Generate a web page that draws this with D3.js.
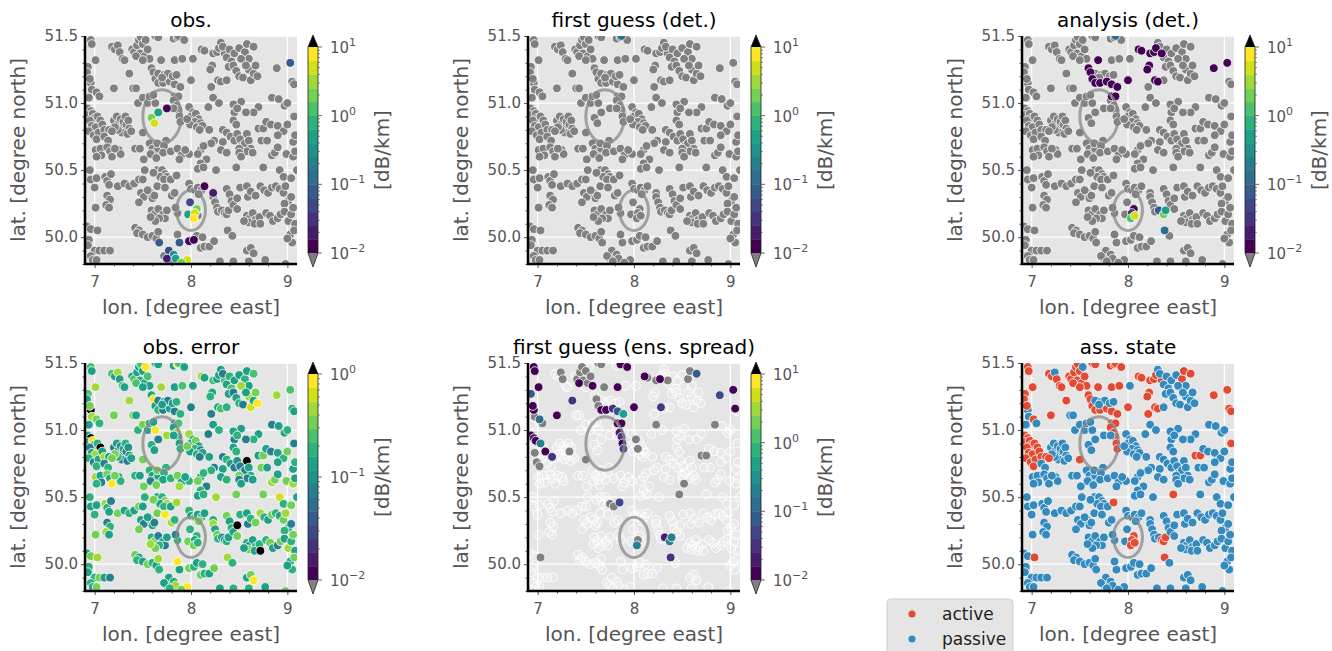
<!DOCTYPE html>
<html>
<head>
<meta charset="utf-8">
<script src="https://cdn.jsdelivr.net/npm/d3@7"></script>
<style>
  body { margin: 0; background: #fff; }
  svg text { font-family: "DejaVu Sans", sans-serif; }
</style>
</head>
<body>
<svg id="fig" width="1332" height="651"></svg>
<script>
// stations: [lon, lat, state (1 = active, 0 = passive), obs. error in dB/km]
const stations = [
  [6.96,51.47,1,0.25],[6.97,51.44,1,0.12],[7.01,51.32,1,0.45],[6.93,51.27,1,0.25],[6.92,51.23,1,0.12],
  [7.18,51.42,1,0.25],[7.21,51.40,1,0.12],[7.24,51.43,0,0.45],[7.26,51.38,1,0.12],[7.29,51.33,1,0.25],[7.31,51.32,1,0.12],
  [7.39,51.40,1,0.12],[7.41,51.38,1,0.25],[7.44,51.43,1,0.12],[7.46,51.47,1,0.12],[7.48,51.49,1,0.25],[7.50,51.44,1,0.12],
  [7.47,51.37,1,0.2],[7.52,51.35,1,0.12],[7.55,51.40,1,0.25],[7.53,51.47,0,0.9],[7.57,51.33,1,0.12],[7.43,51.35,1,0.25],[7.50,51.32,1,0.12],
  [7.63,51.50,1,0.2],[7.66,51.49,1,0.12],[7.69,51.32,1,0.45],[7.82,51.48,1,0.12],[7.86,51.49,1,0.9],[7.87,51.50,1,0.25],[7.93,51.47,1,0.12],
  [7.83,51.32,1,0.12],[7.91,51.33,1,0.25],[8.02,51.33,0,0.12],[8.11,51.40,1,0.45],[8.14,51.39,1,0.12],[8.23,51.37,1,0.25],[8.27,51.38,1,0.12],
  [8.29,51.41,1,0.12],[8.35,51.37,1,0.25],
  [8.31,51.45,0,0.12],[8.33,51.42,0,0.08],[8.37,51.34,0,0.12],[8.40,51.40,0,0.2],[8.45,51.37,0,0.12],[8.42,51.31,0,0.25],
  [8.50,51.41,0,0.12],[8.56,51.38,1,0.2],[8.58,51.44,1,0.12],[8.65,51.42,1,0.25],[8.60,51.33,0,0.12],[8.52,51.33,0,0.45],
  [9.03,51.30,1,0.25],
  [8.89,51.26,1,0.45],[8.22,51.28,1,0.12],[8.20,51.25,1,0.2],[8.28,51.17,1,0.12],[8.31,51.16,1,0.25],[8.21,51.12,1,0.08],
  [8.37,51.17,0,0.2],[8.39,51.27,0,0.12],[8.44,51.28,0,0.08],[8.47,51.24,0,0.12],[8.50,51.20,0,0.2],[8.54,51.19,0,0.08],
  [8.60,51.25,0,0.45],[8.62,51.17,0,0.65],[8.65,51.22,0,0.12],[8.67,51.28,0,0.3],[8.69,51.20,0,0.9],[8.57,51.28,0,0.12],
  [8.00,51.17,1,0.08],
  [7.59,51.26,1,0.12],[7.61,51.23,1,0.9],[7.63,51.18,1,0.12],[7.66,51.15,1,0.2],[7.71,51.15,1,0.08],[7.78,51.16,1,0.12],
  [7.83,51.14,1,0.08],[7.89,51.12,1,0.2],[7.83,51.05,1,0.12],[7.87,51.05,1,0.25],
  [7.66,51.22,0,0.08],[7.72,51.21,0,0.12],[7.76,51.22,0,0.08],[7.81,51.20,0,0.1],[7.85,51.21,0,0.2],[7.70,51.19,0,0.12],
  [7.36,51.22,1,0.45],[7.20,51.11,1,0.3],[6.96,51.15,0,2],[6.95,51.18,1,0.3],[6.97,51.10,0,0.45],[7.02,51.08,1,0.3],
  [7.05,51.05,0,0.2],[6.94,51.04,0,0.12],[9.05,51.16,1,0.2],[9.07,51.14,1,0.12],
  [7.40,51.11,0,0.3],[7.43,51.11,0,0.12],[7.45,51.00,0,0.2],[7.50,51.04,0,0.3],[7.55,51.00,0,0.12],[7.57,51.05,0,0.2],
  [7.63,51.00,0,0.9],[7.61,51.06,0,0.12],[7.82,51.02,1,0.12],[7.85,50.98,1,0.45],[7.87,50.95,1,0.2],
  [8.84,51.04,0,0.08],[8.91,51.03,0,0.12],[8.97,50.98,0,0.12],[9.00,51.00,0,0.2],
  [8.52,51.01,0,0.12],[8.45,50.93,0,0.08],[8.70,50.97,0,0.12],[8.65,50.93,0,0.2],[8.57,50.93,0,0.08],[8.23,51.04,0,0.12],
  [8.29,51.00,0,0.2],[8.18,50.97,0,0.08],[8.44,50.99,0,0.12],[8.48,50.96,0,0.2],[9.07,50.90,1,0.08],
  [6.93,50.96,1,0.2],[6.96,50.94,1,2],[6.93,50.91,1,0.12],[6.98,50.92,1,0.9],[7.00,50.89,1,0.12],[6.95,50.87,1,0.08],
  [7.03,50.90,1,0.2],[7.06,50.87,1,2],[6.97,50.83,1,0.12],[7.01,50.82,1,0.45],[7.08,50.84,1,0.12],[6.94,50.79,1,0.2],
  [6.99,50.76,1,0.08],[7.04,50.78,1,0.12],[7.10,50.80,1,0.45],[7.02,50.73,1,0.2],
  [7.20,50.87,0,0.08],[7.23,50.90,0,0.12],[7.25,50.85,0,0.08],[7.27,50.88,0,0.1],[7.29,50.82,0,0.08],[7.30,50.86,0,0.12],
  [7.32,50.90,0,0.2],[7.33,50.84,0,0.08],[7.35,50.87,0,0.1],[7.36,50.81,0,0.12],[7.28,50.78,0,0.08],[7.24,50.80,0,0.2],
  [7.21,50.82,0,0.3],[7.34,50.77,0,0.08],[7.38,50.79,0,0.12],
  [7.15,50.80,1,0.12],[7.18,50.79,1,0.3],[7.10,50.75,0,0.08],[7.14,50.72,0,0.2],
  [7.59,50.89,0,0.2],[7.62,50.85,0,0.12],[7.66,50.93,0,0.08],[7.75,50.96,0,0.45],[7.82,50.96,0,0.12],[7.50,50.78,1,0.3],
  [7.88,50.90,1,0.12],[7.89,50.86,1,0.2],[7.74,50.72,0,0.2],
  [7.98,50.97,0,0.45],[8.02,50.93,0,0.2],[8.00,50.90,0,0.12],[8.05,50.92,0,0.3],[8.08,50.88,0,0.12],[8.04,50.86,0,0.2],
  [8.10,50.85,0,0.08],[7.99,50.84,0,0.12],[8.06,50.82,0,0.2],[8.12,50.83,0,0.12],[7.96,50.88,0,0.3],[8.09,50.80,0,0.08],
  [8.19,50.80,0,0.12],[8.24,50.72,0,0.08],[8.21,50.70,0,0.2],[8.33,50.71,0,0.12],[8.33,50.80,0,0.08],[8.37,50.78,0,0.2],
  [8.41,50.75,0,0.12],[8.45,50.72,0,0.08],[8.48,50.77,0,0.1],[8.51,50.73,0,0.08],[8.53,50.68,0,0.12],[8.56,50.70,0,0.08],
  [8.58,50.77,0,2],[8.60,50.72,0,0.12],[8.62,50.66,0,0.2],[8.58,50.64,0,0.08],[8.64,50.63,0,0.12],[8.50,50.66,0,0.3],
  [8.44,50.87,0,0.12],[8.47,50.84,0,0.2],[8.70,50.81,1,0.12],[8.75,50.81,1,0.3],
  [8.78,50.86,0,0.12],[8.83,50.84,0,0.08],[8.90,50.83,0,0.12],[8.96,50.79,0,0.2],[8.73,50.72,0,0.3],[8.79,50.72,0,0.12],
  [8.90,50.76,0,0.12],[9.00,50.84,0,0.3],[9.06,50.71,0,0.12],[9.08,50.76,0,0.2],
  [7.01,50.65,0,0.45],[7.06,50.66,0,0.12],[7.07,50.61,0,0.08],[7.02,50.60,0,0.2],[7.13,50.67,0,0.3],[7.16,50.64,0,0.12],
  [7.18,50.60,0,0.9],[7.25,50.65,0,0.12],[7.27,50.62,0,0.2],[7.21,50.66,0,0.3],
  [7.42,50.66,0,0.2],[7.47,50.66,0,0.12],[7.51,50.58,0,0.3],
  [7.57,50.70,0,0.2],[7.60,50.66,0,0.12],[7.63,50.63,0,0.2],[7.58,50.62,0,0.08],[7.66,50.66,0,0.12],[7.65,50.70,0,0.3],
  [7.72,50.68,0,0.2],[7.71,50.63,0,0.12],[7.64,50.59,0,0.3],
  [7.79,50.64,0,0.2],[7.86,50.66,0,0.3],[7.90,50.61,0,0.12],[7.98,50.62,0,0.2],[7.88,50.58,0,0.45],[7.94,50.65,0,0.12],
  [8.10,50.65,0,0.12],[8.13,50.68,0,0.2],[8.07,50.62,0,0.3],[8.16,50.58,0,0.08],[8.10,50.55,0,0.2],[8.07,50.51,0,0.12],
  [8.13,50.52,0,0.2],[8.26,50.50,0,0.45],[8.31,50.65,0,0.12],[8.37,50.63,0,0.2],[8.47,50.52,1,0.3],[8.50,50.63,0,0.08],
  [8.52,50.60,0,0.12],[8.75,50.52,0,0.3],[8.84,50.61,0,0.45],[8.87,50.63,0,0.3],[8.90,50.67,0,0.12],[8.99,50.62,0,0.3],
  [9.06,50.60,0,0.45],[9.08,50.64,0,0.12],[8.92,50.50,0,0.65],[8.96,50.45,0,0.2],[9.04,50.44,0,0.3],[9.10,50.50,0,0.12],
  [7.65,50.50,0,0.12],[7.70,50.50,0,0.2],[7.73,50.47,0,0.3],[7.68,50.45,0,0.12],[7.75,50.45,0,0.45],[7.72,50.43,0,0.2],
  [7.79,50.43,0,0.12],[7.61,50.48,0,0.3],[7.52,50.50,0,0.2],[7.85,50.46,1,0.45],
  [6.96,50.43,0,0.12],[7.00,50.37,0,0.2],[7.02,50.44,0,0.12],[7.11,50.45,0,0.45],[7.13,50.42,0,0.2],[7.15,50.39,0,0.12],
  [7.17,50.47,0,0.08],[6.95,50.50,0,0.2],
  [7.24,50.38,0,0.3],[7.31,50.40,0,0.12],[7.36,50.38,0,0.2],[7.41,50.40,0,0.12],[7.46,50.43,0,0.3],[7.50,50.43,0,0.12],
  [7.13,50.31,0,0.08],[7.16,50.28,0,0.2],[7.12,50.24,0,0.45],[7.15,50.22,0,0.12],[7.01,50.22,0,0.3],
  [7.48,50.33,0,0.12],[7.51,50.30,0,0.08],[7.58,50.33,0,0.2],[7.60,50.29,0,0.12],[7.62,50.31,0,0.08],[7.46,50.26,0,0.3],
  [7.55,50.35,0,0.12],[7.65,50.38,0,0.3],[7.73,50.37,0,0.9],[7.80,50.31,0,0.45],[7.83,50.33,0,0.2],
  [7.98,50.40,0,0.2],[8.00,50.36,0,0.12],[8.04,50.35,0,0.3],[8.07,50.37,0,0.12],[8.11,50.35,0,0.2],[8.08,50.32,0,0.3],
  [7.59,50.20,0,0.2],[7.62,50.17,0,0.3],[7.66,50.21,0,0.08],[7.71,50.17,0,0.12],[7.73,50.14,0,0.08],[7.67,50.14,0,0.2],
  [7.63,50.12,0,0.3],[7.58,50.15,0,0.45],[7.75,50.20,0,0.12],[7.86,50.18,0,0.2],[7.84,50.22,0,0.08],
  [7.99,50.26,0,0.2],[7.97,50.17,0,0.3],[8.06,50.21,1,0.2],[8.04,50.18,1,0.12],[8.03,50.14,1,0.3],[8.07,50.16,1,0.2],
  [8.14,50.38,0,0.12],[8.23,50.33,0,0.2],[8.23,50.30,0,0.45],[8.25,50.26,0,0.12],[8.27,50.22,0,0.3],[8.28,50.19,0,0.2],
  [8.32,50.20,0,0.12],[8.35,50.18,1,0.08],[8.37,50.17,1,0.2],[8.39,50.20,1,0.12],
  [8.37,50.36,0,0.3],[8.40,50.32,0,0.12],[8.42,50.27,0,0.2],[8.44,50.24,0,0.12],[8.48,50.29,0,2],[8.48,50.21,0,0.3],
  [8.51,50.37,0,0.2],[8.58,50.38,0,0.12],[8.59,50.30,0,0.08],[8.62,50.34,0,0.2],[8.67,50.31,0,0.3],[8.72,50.38,0,0.45],
  [8.76,50.35,0,0.2],[8.80,50.33,0,0.12],[8.84,50.37,0,0.3],[8.88,50.38,0,0.2],[8.92,50.36,0,0.12],[8.96,50.33,0,0.3],
  [8.98,50.38,0,0.45],[9.01,50.27,0,0.12],[8.97,50.25,0,0.2],[9.04,50.30,0,0.08],
  [8.58,50.16,0,0.2],[8.61,50.14,0,0.08],[8.64,50.18,0,0.12],[8.67,50.13,0,0.2],[8.60,50.11,0,0.3],[8.66,50.10,0,0.12],
  [8.71,50.15,0,0.2],[8.72,50.10,0,2],[8.55,50.12,0,0.12],
  [8.78,50.18,0,0.2],[8.82,50.16,0,0.3],[8.85,50.12,0,0.12],[8.90,50.14,0,0.08],[8.93,50.17,0,0.3],[8.97,50.19,0,0.12],
  [9.01,50.12,0,0.45],[9.04,50.17,0,0.2],[9.06,50.22,0,0.3],[9.08,50.10,0,0.12],
  [6.92,50.08,0,0.12],[6.96,50.06,0,0.3],[7.03,50.05,1,0.45],[6.94,49.98,0,0.2],[6.93,49.94,0,0.12],[7.00,49.90,0,0.2],
  [7.05,49.90,0,0.3],[7.10,49.90,0,0.12],[7.16,49.90,0,0.08],[6.96,49.86,0,0.2],[6.98,49.83,0,0.12],[7.02,49.83,0,0.3],
  [7.42,50.07,0,0.3],[7.46,50.05,0,0.12],[7.44,50.03,0,0.2],[7.50,50.02,0,0.12],[7.55,50.00,0,0.3],[7.60,50.01,0,0.2],
  [7.64,49.99,0,0.12],[7.66,50.04,0,0.45],
  [7.67,49.96,0,0.2],[7.77,49.90,0,0.12],[7.82,49.87,0,0.2],[7.75,49.84,0,0.12],[7.84,49.84,0,0.45],[7.96,49.83,0,0.9],
  [7.90,49.81,0,0.3],[7.88,49.96,0,0.12],[7.98,49.97,0,0.3],[8.03,49.98,0,0.2],[7.72,49.86,0,0.12],[7.78,49.82,0,0.2],
  [7.86,50.02,0,0.9],[8.06,50.01,0,0.12],[8.10,49.92,0,0.3],[8.14,49.93,0,0.2],[8.19,49.93,0,0.12],[8.24,49.97,0,0.3],
  [8.12,50.00,0,0.2],[8.38,50.05,1,0.45],[8.43,50.01,0,0.2],
  [8.30,49.82,0,0.12],[8.44,49.82,0,0.2],[8.58,49.90,0,0.12],[8.62,49.92,0,0.3],[8.65,49.88,0,0.9],[8.60,49.82,0,0.2],
  [8.77,49.83,0,0.12],[8.98,49.80,0,0.3],[9.03,50.02,0,0.12],[9.05,49.96,0,0.2],[9.07,50.05,0,0.3],[9.00,49.99,0,0.12]
];

// values inside the colour range, [lon, lat, dB/km]; every other station is below 1e-2
const obsValues = [
  [9.03,51.30,0.07],[7.75,50.96,0.012],[7.66,50.93,0.5],[7.59,50.89,1.7],[7.62,50.85,5],[8.14,50.38,0.014],
  [8.23,50.33,0.02],[7.99,50.26,0.05],[8.06,50.21,1.7],[8.04,50.18,5],[7.97,50.17,0.6],[8.03,50.14,7],
  [7.67,49.96,0.07],[7.88,49.96,0.07],[7.98,49.97,0.012],[8.03,49.98,0.013],[7.77,49.90,0.05],[7.82,49.87,0.3],
  [7.75,49.84,0.02],[7.84,49.84,0.6],[7.96,49.83,4],[7.90,49.81,1.7]
];
const fgValues = [[7.87,51.50,0.15]];
const anValues = [
  [7.87,51.50,0.15],[7.59,51.26,0.012],[7.61,51.23,0.012],[7.63,51.18,0.012],[7.66,51.15,0.012],[7.71,51.15,0.012],
  [7.78,51.16,0.012],[7.83,51.14,0.012],[7.89,51.12,0.012],[7.83,51.05,0.012],[7.87,51.05,0.012],[7.69,51.32,0.012],
  [8.00,51.17,0.012],[8.11,51.40,0.012],[8.14,51.39,0.012],[8.23,51.37,0.012],[8.27,51.38,0.012],[8.29,51.41,0.012],
  [8.35,51.37,0.012],[8.22,51.28,0.012],[8.20,51.25,0.012],[8.28,51.17,0.012],[8.31,51.16,0.012],[8.89,51.26,0.012],
  [9.03,51.30,0.012],[8.06,50.21,0.013],[8.04,50.18,0.03],[8.03,50.14,1.5],[8.07,50.16,6],[8.32,50.20,0.07],
  [8.37,50.17,1.7],[8.39,50.20,0.5],[8.38,50.05,0.15]
];
// ensemble spread: stations below range (grey) and stations with a value; the rest have none
const spreadUnder = [
  [7.24,51.43],[7.26,51.38],[7.41,51.38],[7.44,51.43],[7.47,51.37],[7.50,51.44],[7.52,51.35],[7.55,51.40],[7.46,51.47],
  [7.63,51.50],[7.66,51.49],[7.69,51.32],[7.61,51.23],[7.63,51.18],[6.97,51.10],[7.05,51.05],[6.99,50.76],[7.02,50.73],
  [6.97,50.83],[7.33,50.84],[7.50,50.78],[8.02,50.93],[8.04,50.86],[8.14,51.39],[8.23,51.37],[8.35,51.37],[8.56,51.38],
  [8.58,51.44],[8.23,51.04],[8.70,50.81],[8.75,50.81],[8.84,51.04],[8.52,50.60],[8.47,50.52],[7.79,50.43],[7.75,50.45],
  [8.04,50.18],[7.03,50.05]
];
const spreadValues = [
  [6.96,51.47,0.012],[6.97,51.44,0.012],[7.01,51.32,0.012],[6.93,51.27,0.07],[7.36,51.22,0.03],[7.20,51.11,0.012],
  [6.96,51.15,0.012],[6.95,51.18,0.012],[7.02,51.08,0.1],[6.93,50.96,0.012],[6.96,50.94,0.02],[6.98,50.92,0.015],
  [7.03,50.90,0.2],[7.08,50.84,0.012],[7.15,50.80,0.03],[7.43,51.35,0.012],[7.57,51.33,0.012],[7.86,51.49,0.015],
  [7.93,51.47,0.012],[7.83,51.32,0.012],[7.66,51.15,0.015],[7.71,51.15,0.015],[7.78,51.16,0.03],[7.83,51.14,0.07],
  [7.89,51.12,0.6],[8.00,51.17,0.012],[7.83,51.05,0.012],[7.87,51.05,0.015],[7.85,50.98,0.025],[7.88,50.90,0.012],
  [7.89,50.86,0.04],[7.87,50.95,0.03],[8.11,51.40,0.012],[8.27,51.38,0.012],[8.65,51.42,0.07],[8.28,51.17,0.03],
  [8.89,51.26,0.05],[9.03,51.30,0.012],[9.05,51.16,0.012],[7.85,50.46,0.04],[8.32,50.20,0.02],[8.37,50.17,0.25],
  [8.39,50.20,0.25],[8.38,50.05,0.03],[8.03,50.14,0.2]
];
// highlighted areas: [lon, lat, radius in degrees]
const areas = [[7.7, 50.9, 0.2], [8.0, 50.2, 0.15]];

const panelTitles = ['obs.', 'first guess (det.)', 'analysis (det.)', 'obs. error', 'first guess (ens. spread)', 'ass. state'];
const lonTicks = [7, 8, 9];
const latTicks = [50.0, 50.5, 51.0, 51.5];
const lonMinor = [7.2, 7.4, 7.6, 7.8, 8.2, 8.4, 8.6, 8.8];
const latMinor = [49.8, 49.9, 50.1, 50.2, 50.3, 50.4, 50.6, 50.7, 50.8, 50.9, 51.1, 51.2, 51.3, 51.4];
const stateLabels = ['active', 'passive'];
const stateColors = ['#E24A33', '#348ABD'];

const svg = d3.select('#fig');
const W = 212, H = 228;
const colLeft = [85, 528, 1022], rowTop = [36, 363];
const NBINS = 15;
const UNDER = '#808080', OVER = '#000000';

function binColor(v, lo, hi) {
  if (Number.isNaN(v)) return null;
  if (v < Math.pow(10, lo)) return UNDER;
  if (v > Math.pow(10, hi)) return OVER;
  const b = Math.min(NBINS - 1, Math.floor((Math.log10(v) - lo) / (hi - lo) * NBINS));
  return d3.interpolateViridis(b / (NBINS - 1));
}

const keyOf = (lon, lat) => lon.toFixed(2) + ',' + lat.toFixed(2);

function panelPoints(base, overrides) {
  const m = new Map();
  stations.forEach(s => m.set(keyOf(s[0], s[1]), {lon: s[0], lat: s[1], v: base(s)}));
  overrides.forEach(o => {
    const k = keyOf(o[0], o[1]);
    if (m.has(k)) m.get(k).v = o[2];
    else m.set(k, {lon: o[0], lat: o[1], v: o[2]});
  });
  return [...m.values()];
}

const panels = [
  {base: () => 0, over: obsValues, cb: [-2, 1], sort: true},
  {base: () => 0, over: fgValues, cb: [-2, 1], sort: true},
  {base: () => 0, over: anValues, cb: [-2, 1], sort: true},
  {base: s => s[3], over: [], cb: [-2, 0], sort: false},
  {base: () => NaN, over: spreadUnder.map(d => [d[0], d[1], 0]).concat(spreadValues), cb: [-2, 1], sort: true},
  {state: true}
];

panels.forEach((p, i) => {
  const left = colLeft[i % 3], top = rowTop[Math.floor(i / 3)];
  const x = d3.scaleLinear().domain([6.9, 9.1]).range([left, left + W]);
  const y = d3.scaleLinear().domain([49.8, 51.5]).range([top + H, top]);
  const g = svg.append('g');

  g.append('rect').attr('x', left).attr('y', top).attr('width', W).attr('height', H).attr('fill', '#e5e5e5');

  // grid
  g.selectAll('.gx').data(lonTicks).join('line')
    .attr('x1', d => x(d)).attr('x2', d => x(d)).attr('y1', top).attr('y2', top + H)
    .attr('stroke', '#fff').attr('stroke-width', 1.3);
  g.selectAll('.gy').data(latTicks).join('line')
    .attr('y1', d => y(d)).attr('y2', d => y(d)).attr('x1', left).attr('x2', left + W)
    .attr('stroke', '#fff').attr('stroke-width', 1.3);

  svg.append('clipPath').attr('id', 'clip' + i).append('rect')
    .attr('x', left).attr('y', top).attr('width', W).attr('height', H);
  const pg = g.append('g').attr('clip-path', `url(#clip${i})`);

  let pts;
  if (p.state) {
    pts = stations.map(s => ({lon: s[0], lat: s[1], fill: stateColors[s[2] ? 0 : 1], rank: 0}));
  } else {
    pts = panelPoints(p.base, p.over).map(d => {
      const c = binColor(d.v, p.cb[0], p.cb[1]);
      return {lon: d.lon, lat: d.lat, fill: c, rank: c === null ? 0 : (c === UNDER ? 1 : 2)};
    });
    if (p.sort) pts.sort((a, b) => a.rank - b.rank);
  }

  pg.selectAll('circle').data(pts).join('circle')
    .attr('cx', d => x(d.lon)).attr('cy', d => y(d.lat)).attr('r', 4.4)
    .attr('fill', d => d.fill === null ? 'rgba(255,255,255,0.12)' : d.fill)
    .attr('stroke', '#fff').attr('stroke-width', d => d.fill === null ? 1 : 0.8);

  // highlighted areas
  pg.selectAll('ellipse').data(areas).join('ellipse')
    .attr('cx', d => x(d[0])).attr('cy', d => y(d[1]))
    .attr('rx', d => x(d[0] + d[2]) - x(d[0])).attr('ry', d => y(d[1] - d[2]) - y(d[1]))
    .attr('fill', 'none').attr('stroke', '#888').attr('stroke-opacity', 0.75).attr('stroke-width', 3);

  // axes
  const xa = g.append('g').attr('transform', `translate(0,${top + H})`)
    .call(d3.axisBottom(x).tickValues(lonTicks).tickFormat(d3.format('d')).tickSize(4).tickPadding(8));
  const xm = g.append('g').attr('transform', `translate(0,${top + H})`)
    .call(d3.axisBottom(x).tickValues(lonMinor).tickFormat('').tickSize(2.5));
  const ya = g.append('g').attr('transform', `translate(${left},0)`)
    .call(d3.axisLeft(y).tickValues(latTicks).tickFormat(d3.format('.1f')).tickSize(4).tickPadding(3));
  const ym = g.append('g').attr('transform', `translate(${left},0)`)
    .call(d3.axisLeft(y).tickValues(latMinor).tickFormat('').tickSize(2.5));
  [xa, xm, ya, ym].forEach(a => {
    a.select('.domain').remove();
    a.selectAll('line').attr('stroke', '#555');
    a.selectAll('text').attr('font-size', 15).attr('fill', '#555').attr('font-family', '"DejaVu Sans", sans-serif');
  });

  // spines
  g.append('line').attr('x1', left).attr('x2', left).attr('y1', top).attr('y2', top + H)
    .attr('stroke', '#000').attr('stroke-width', 2.5);
  g.append('line').attr('x1', left - 1.2).attr('x2', left + W).attr('y1', top + H).attr('y2', top + H)
    .attr('stroke', '#000').attr('stroke-width', 2.5);

  // labels
  g.append('text').attr('x', left + W / 2).attr('y', top - 9).attr('text-anchor', 'middle')
    .attr('font-size', 20).attr('fill', '#000').text(panelTitles[i]);
  g.append('text').attr('x', left + W / 2).attr('y', top + H + 50).attr('text-anchor', 'middle')
    .attr('font-size', 20).attr('fill', '#555').text('lon. [degree east]');
  g.append('text').attr('transform', `translate(${left - 60},${top + H / 2}) rotate(-90)`)
    .attr('text-anchor', 'middle').attr('font-size', 20).attr('fill', '#555').text('lat. [degree north]');

  if (p.state) return;

  // colour bar
  const cbX = left + W + 11, cbW = 10, cbTop = top + 11, cbBot = top + 217;
  const lo = p.cb[0], hi = p.cb[1];
  const cy = d3.scaleLog().domain([Math.pow(10, lo), Math.pow(10, hi)]).range([cbBot, cbTop]);
  const bands = d3.range(NBINS).map(k => ({
    a: Math.pow(10, lo + k * (hi - lo) / NBINS), b: Math.pow(10, lo + (k + 1) * (hi - lo) / NBINS),
    c: d3.interpolateViridis(k / (NBINS - 1))
  }));
  const cb = g.append('g');
  cb.selectAll('rect').data(bands).join('rect')
    .attr('x', cbX).attr('width', cbW).attr('y', d => cy(d.b)).attr('height', d => cy(d.a) - cy(d.b) + 0.4)
    .attr('fill', d => d.c);
  cb.append('path').attr('d', `M${cbX},${cbTop}L${cbX + cbW / 2},${top - 1}L${cbX + cbW},${cbTop}Z`).attr('fill', OVER);
  cb.append('path').attr('d', `M${cbX},${cbBot}L${cbX + cbW / 2},${top + 231}L${cbX + cbW},${cbBot}Z`).attr('fill', UNDER);
  cb.append('path')
    .attr('d', `M${cbX},${cbTop}L${cbX + cbW / 2},${top - 1}L${cbX + cbW},${cbTop}L${cbX + cbW},${cbBot}` +
               `L${cbX + cbW / 2},${top + 231}L${cbX},${cbBot}Z`)
    .attr('fill', 'none').attr('stroke', '#222').attr('stroke-width', 0.8);

  const decades = d3.range(lo, hi + 1);
  const minors = [];
  d3.range(lo, hi).forEach(dd => d3.range(2, 10).forEach(m => minors.push(m * Math.pow(10, dd))));
  cb.selectAll('.mi').data(minors).join('line')
    .attr('x1', cbX + cbW).attr('x2', cbX + cbW + 2).attr('y1', d => cy(d)).attr('y2', d => cy(d))
    .attr('stroke', '#555').attr('stroke-width', 0.7);
  cb.selectAll('.ma').data(decades).join('line')
    .attr('x1', cbX + cbW).attr('x2', cbX + cbW + 4).attr('y1', d => cy(Math.pow(10, d))).attr('y2', d => cy(Math.pow(10, d)))
    .attr('stroke', '#555').attr('stroke-width', 0.9);
  const lab = cb.selectAll('text').data(decades).join('text')
    .attr('x', cbX + cbW + 12).attr('y', d => cy(Math.pow(10, d)) + 6)
    .attr('font-size', 15).attr('fill', '#555');
  lab.append('tspan').text('10');
  lab.append('tspan').attr('dy', -7).attr('font-size', 11).text(d => d < 0 ? '\u2212' + (-d) : String(d));

  g.append('text').attr('transform', `translate(${left + W + 92},${top + 114}) rotate(-90)`)
    .attr('text-anchor', 'middle').attr('font-size', 20).attr('fill', '#555').text('[dB/km]');
});

// legend for the state panel
const lg = svg.append('g');
lg.append('rect').attr('x', 887).attr('y', 599).attr('width', 126).attr('height', 60).attr('rx', 4)
  .attr('fill', '#e5e5e5').attr('stroke', '#d0d0d0');
lg.selectAll('circle').data(stateLabels).join('circle')
  .attr('cx', 912).attr('cy', (d, k) => 614 + k * 25).attr('r', 3.5).attr('fill', (d, k) => stateColors[k]);
lg.selectAll('text').data(stateLabels).join('text')
  .attr('x', 942).attr('y', (d, k) => 620 + k * 25).attr('font-size', 17).attr('fill', '#222').text(d => d);
</script>
</body>
</html>
